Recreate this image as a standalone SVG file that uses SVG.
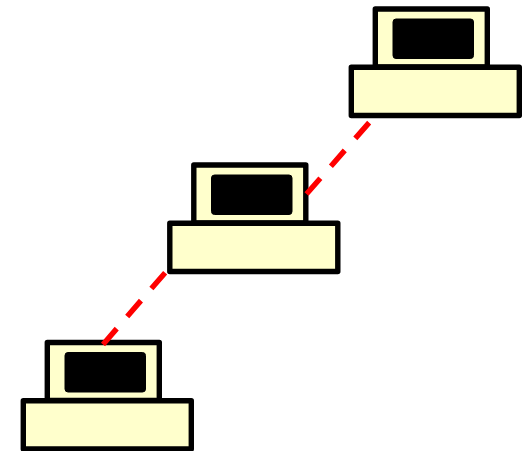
<svg xmlns="http://www.w3.org/2000/svg" width="528" height="451" viewBox="0 0 528 451">
<style>
.body{fill:#ffffcc;stroke:#000;stroke-width:5.4;stroke-linejoin:round}
.screen{fill:#000;stroke:#000;stroke-width:1;stroke-linejoin:round}
.link{fill:none;stroke:#ff0000;stroke-width:5.4;stroke-dasharray:21 16}
</style>
<defs>
<g id="computer">
<rect class="body" x="375.3" y="9" width="112" height="58"/>
<rect class="screen" x="393" y="19" width="80.5" height="39.5" rx="3"/>
<rect class="body" x="351.3" y="67.2" width="168" height="48.3"/>
</g>
</defs>
<rect width="528" height="451" fill="#fff"/>
<g id="node-top"><use href="#computer"/></g>
<g id="node-middle"><use href="#computer" x="-181.5" y="156"/></g>
<g id="node-bottom"><use href="#computer" x="-328" y="333.5"/></g>
<g id="connectors">
<line class="link" x1="103" y1="344.5" x2="167" y2="270.5"/>
<line class="link" x1="306.5" y1="194" x2="371" y2="120.5"/>
</g>
</svg>
